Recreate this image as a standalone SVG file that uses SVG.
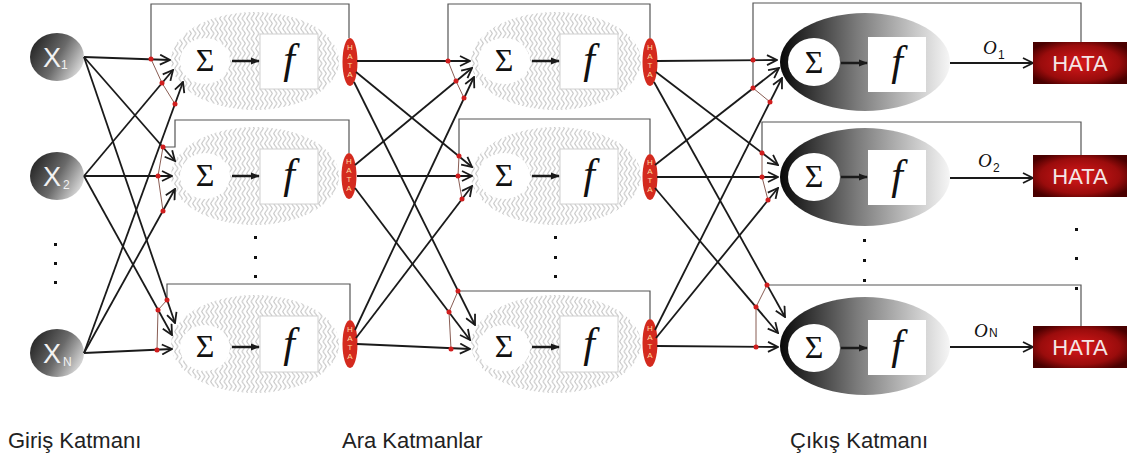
<svg xmlns="http://www.w3.org/2000/svg" width="1136" height="463" viewBox="0 0 1136 463">
<defs>
<pattern id="wave" width="4.5" height="10" patternUnits="userSpaceOnUse"><path d="M2.25,0 C4.3,2.5 4.3,2.5 2.25,5 C0.2,7.5 0.2,7.5 2.25,10" fill="none" stroke="#bcbcbc" stroke-width="1"/></pattern>
<linearGradient id="inGrad" x1="0" y1="0.3" x2="1" y2="0.8"><stop offset="0" stop-color="#262626"/><stop offset="0.5" stop-color="#6a6a6a"/><stop offset="1" stop-color="#e8e8e8"/></linearGradient>
<linearGradient id="outGrad" x1="0" y1="0" x2="1" y2="0"><stop offset="0" stop-color="#080808"/><stop offset="0.45" stop-color="#7a7a7a"/><stop offset="1" stop-color="#f6f6f6"/></linearGradient>
<radialGradient id="boxGrad" cx="0.5" cy="0.5" r="0.6"><stop offset="0" stop-color="#d8181a"/><stop offset="0.7" stop-color="#9a0c0c"/><stop offset="1" stop-color="#4a0000"/></radialGradient>
<marker id="open" viewBox="0 0 12 12" markerWidth="12" markerHeight="12" refX="11" refY="6" orient="auto" markerUnits="userSpaceOnUse"><path d="M1,1 L11,6 L1,11" fill="none" stroke="#1a1a1a" stroke-width="1.8"/></marker>
<marker id="fill" viewBox="0 0 10 10" markerWidth="9" markerHeight="9" refX="9" refY="5" orient="auto" markerUnits="userSpaceOnUse"><path d="M0,1 L10,5 L0,9 Z" fill="#1a1a1a"/></marker>
</defs>
<style>
.conn{stroke:#1a1a1a;stroke-width:1.8;fill:none;marker-end:url(#open)}
.fb{stroke:#555;stroke-width:1.2;fill:none}
.thin{stroke:#7a4a40;stroke-width:0.9;fill:none}
.rd{fill:#d01e1e}
.wav{fill:url(#wave)}
.sig{font-family:"Liberation Serif",serif;font-size:32px;fill:#111;text-anchor:middle}
.fx{font-family:"Liberation Serif",serif;font-style:italic;font-size:42px;fill:#111;text-anchor:middle}
.ha{font-family:"Liberation Sans",sans-serif;font-size:8px;fill:#ffdca0;text-anchor:middle}
.xt{font-family:"Liberation Sans",sans-serif;font-size:27px;fill:#f2f2f2;text-anchor:middle}
.xs{font-family:"Liberation Sans",sans-serif;font-size:12px;fill:#f2f2f2}
.lab{font-family:"Liberation Sans",sans-serif;font-size:22px;fill:#222}
.ol{font-family:"Liberation Serif",serif;font-style:italic;font-size:19px;fill:#111}
.os{font-family:"Liberation Sans",sans-serif;font-size:12px;fill:#111}
.hb{font-family:"Liberation Sans",sans-serif;font-size:22px;fill:#f4e6e6;text-anchor:middle}
.arr{stroke:#1a1a1a;stroke-width:2.5;marker-end:url(#fill)}
.dot{fill:#111}
</style>
<rect width="1136" height="463" fill="#fff"/>

<!-- feedback lines -->
<g id="feedback">
<path class="fb" d="M349,38 V4 H151 V59"/>
<path class="fb" d="M349,153 V120 H175 V147 H163"/>
<path class="fb" d="M350,320 V284 H167 V300"/>
<path class="fb" d="M650,38 V4 H448 V61"/>
<path class="fb" d="M650,154 V119 H459 V156"/>
<path class="fb" d="M650,319 V291 H458"/>
<path class="fb" d="M1081,42 V3 H753 V88"/>
<path class="fb" d="M1081,155 V122 H762 V153"/>
<path class="fb" d="M1081,326 V285 H767"/>
<path class="thin" d="M151,59 L162,83 L175,104"/>
<path class="thin" d="M163,147 L158,176 L163,211"/>
<path class="thin" d="M167,300 L158,310 L157,350"/>
<path class="thin" d="M448,61 L456,81 L464,98"/>
<path class="thin" d="M459,156 L458,176 L462,199"/>
<path class="thin" d="M458,291 L449,312 L451,349"/>
<path class="thin" d="M753,88 L770,102"/>
<path class="thin" d="M762,153 L762,177 L768,200"/>
<path class="thin" d="M767,285 L756,307 L756,347"/>
</g>

<!-- input nodes -->
<g id="x1"><ellipse cx="57" cy="57" rx="27" ry="24" fill="url(#inGrad)"/><text class="xt" x="52" y="67">X</text><text class="xs" x="61" y="69">1</text></g>
<g id="x2"><ellipse cx="57" cy="176" rx="27" ry="24" fill="url(#inGrad)"/><text class="xt" x="52" y="186">X</text><text class="xs" x="63" y="189">2</text></g>
<g id="xn"><ellipse cx="57" cy="353" rx="27" ry="24" fill="url(#inGrad)"/><text class="xt" x="52" y="363">X</text><text class="xs" x="63" y="366">N</text></g>
<g id="input-dots"><rect class="dot" x="54" y="243" width="3" height="3"/><rect class="dot" x="54" y="262" width="3" height="3"/><rect class="dot" x="54" y="281" width="3" height="3"/></g>

<!-- hidden layer 1 -->
<g id="h1n1" transform="translate(255,61)">
<ellipse class="wav" rx="84" ry="49"/><ellipse cx="-50" rx="25" ry="23" fill="#fff"/><rect x="5" y="-27" width="58" height="55" fill="#fff" stroke="#d0d0d0"/>
<line class="arr" x1="-23" y1="0" x2="4" y2="0"/><text class="sig" x="-50" y="10">Σ</text><text class="fx" x="34" y="12">f</text>
<ellipse cx="95" cy="1" rx="7.5" ry="24" fill="#d42a1e"/><text class="ha" x="95" y="-11">H</text><text class="ha" x="95" y="-2">A</text><text class="ha" x="95" y="7">T</text><text class="ha" x="95" y="16">A</text></g>
<g id="h1n2" transform="translate(255,176)">
<ellipse class="wav" rx="84" ry="49"/><ellipse cx="-50" rx="25" ry="23" fill="#fff"/><rect x="5" y="-27" width="58" height="55" fill="#fff" stroke="#d0d0d0"/>
<line class="arr" x1="-23" y1="0" x2="4" y2="0"/><text class="sig" x="-50" y="10">Σ</text><text class="fx" x="34" y="12">f</text>
<ellipse cx="94" cy="0" rx="7.5" ry="23" fill="#d42a1e"/><text class="ha" x="94" y="-12">H</text><text class="ha" x="94" y="-3">A</text><text class="ha" x="94" y="6">T</text><text class="ha" x="94" y="15">A</text></g>
<g id="h1n3" transform="translate(255,344)">
<ellipse class="wav" rx="84" ry="49"/><ellipse cx="-50" cy="4" rx="25" ry="23" fill="#fff"/><rect x="5" y="-28" width="58" height="56" fill="#fff" stroke="#d0d0d0"/>
<line class="arr" x1="-23" y1="3" x2="4" y2="3"/><text class="sig" x="-50" y="13">Σ</text><text class="fx" x="34" y="13">f</text>
<ellipse cx="95" cy="0" rx="7.5" ry="24" fill="#d42a1e"/><text class="ha" x="95" y="-12">H</text><text class="ha" x="95" y="-3">A</text><text class="ha" x="95" y="6">T</text><text class="ha" x="95" y="15">A</text></g>
<g id="h1-dots"><rect class="dot" x="254" y="236" width="3" height="3"/><rect class="dot" x="254" y="256" width="3" height="3"/><rect class="dot" x="254" y="275" width="3" height="3"/></g>

<!-- hidden layer 2 -->
<g id="h2n1" transform="translate(556,61)">
<ellipse class="wav" rx="85" ry="49"/><ellipse cx="-52" rx="26" ry="23" fill="#fff"/><rect x="4" y="-27" width="58" height="55" fill="#fff" stroke="#d0d0d0"/>
<line class="arr" x1="-24" y1="0" x2="3" y2="0"/><text class="sig" x="-52" y="10">Σ</text><text class="fx" x="33" y="12">f</text>
<ellipse cx="94" cy="1" rx="7.5" ry="24" fill="#d42a1e"/><text class="ha" x="94" y="-11">H</text><text class="ha" x="94" y="-2">A</text><text class="ha" x="94" y="7">T</text><text class="ha" x="94" y="16">A</text></g>
<g id="h2n2" transform="translate(556,176)">
<ellipse class="wav" rx="85" ry="49"/><ellipse cx="-52" rx="26" ry="23" fill="#fff"/><rect x="4" y="-27" width="58" height="55" fill="#fff" stroke="#d0d0d0"/>
<line class="arr" x1="-24" y1="0" x2="3" y2="0"/><text class="sig" x="-52" y="10">Σ</text><text class="fx" x="33" y="12">f</text>
<ellipse cx="94" cy="1" rx="7.5" ry="23" fill="#d42a1e"/><text class="ha" x="94" y="-11">H</text><text class="ha" x="94" y="-2">A</text><text class="ha" x="94" y="7">T</text><text class="ha" x="94" y="16">A</text></g>
<g id="h2n3" transform="translate(556,344)">
<ellipse class="wav" rx="85" ry="49"/><ellipse cx="-52" cy="4" rx="26" ry="23" fill="#fff"/><rect x="4" y="-28" width="58" height="56" fill="#fff" stroke="#d0d0d0"/>
<line class="arr" x1="-24" y1="3" x2="3" y2="3"/><text class="sig" x="-52" y="13">Σ</text><text class="fx" x="33" y="13">f</text>
<ellipse cx="94" cy="-1" rx="7.5" ry="24" fill="#d42a1e"/><text class="ha" x="94" y="-13">H</text><text class="ha" x="94" y="-4">A</text><text class="ha" x="94" y="5">T</text><text class="ha" x="94" y="14">A</text></g>
<g id="h2-dots"><rect class="dot" x="554" y="236" width="3" height="3"/><rect class="dot" x="554" y="256" width="3" height="3"/><rect class="dot" x="554" y="275" width="3" height="3"/></g>

<!-- output layer -->
<g id="on1" transform="translate(865,62)">
<ellipse rx="85" ry="49" fill="url(#outGrad)"/><ellipse cx="-51" rx="26" ry="24" fill="#fff"/><rect x="3" y="-25" width="58" height="55" fill="#fff"/>
<line class="arr" x1="-24" y1="1" x2="2" y2="1"/><text class="sig" x="-51" y="11">Σ</text><text class="fx" x="32" y="13">f</text>
<line class="conn" x1="85" y1="1" x2="168" y2="1"/><text class="ol" x="118" y="-8">O</text><text class="os" x="133" y="-3">1</text>
<rect x="168" y="-20" width="94" height="42" fill="url(#boxGrad)"/><text class="hb" x="215" y="9">HATA</text></g>
<g id="on2" transform="translate(865,177)">
<ellipse rx="85" ry="49" fill="url(#outGrad)"/><ellipse cx="-51" rx="26" ry="24" fill="#fff"/><rect x="3" y="-27" width="58" height="55" fill="#fff"/>
<line class="arr" x1="-24" y1="0" x2="2" y2="0"/><text class="sig" x="-51" y="10">Σ</text><text class="fx" x="32" y="12">f</text>
<line class="conn" x1="85" y1="1" x2="168" y2="1"/><text class="ol" x="113" y="-10">O</text><text class="os" x="128" y="-5">2</text>
<rect x="168" y="-22" width="94" height="42" fill="url(#boxGrad)"/><text class="hb" x="215" y="7">HATA</text></g>
<g id="on3" transform="translate(865,346)">
<ellipse rx="85" ry="49" fill="url(#outGrad)"/><ellipse cx="-51" cy="2" rx="26" ry="24" fill="#fff"/><rect x="3" y="-26" width="58" height="55" fill="#fff"/>
<line class="arr" x1="-24" y1="2" x2="2" y2="2"/><text class="sig" x="-51" y="12">Σ</text><text class="fx" x="32" y="13">f</text>
<line class="conn" x1="85" y1="1" x2="168" y2="1"/><text class="ol" x="109" y="-9">O</text><text class="os" x="124" y="-9">N</text>
<rect x="168" y="-20" width="94" height="42" fill="url(#boxGrad)"/><text class="hb" x="215" y="9">HATA</text></g>
<g id="out-dots"><rect class="dot" x="863" y="239" width="3" height="3"/><rect class="dot" x="863" y="259" width="3" height="3"/><rect class="dot" x="863" y="279" width="3" height="3"/><rect class="dot" x="1075" y="228" width="3" height="3"/><rect class="dot" x="1075" y="257" width="3" height="3"/><rect class="dot" x="1075" y="287" width="3" height="3"/></g>

<!-- connectors -->
<g id="connectors">
<line class="conn" x1="84" y1="57" x2="170" y2="60"/>
<line class="conn" x1="84" y1="176" x2="173" y2="70"/>
<line class="conn" x1="84" y1="353" x2="183" y2="82"/>
<line class="conn" x1="84" y1="57" x2="175" y2="161"/>
<line class="conn" x1="84" y1="176" x2="172" y2="176"/>
<line class="conn" x1="84" y1="353" x2="175" y2="189"/>
<line class="conn" x1="84" y1="57" x2="175" y2="323"/>
<line class="conn" x1="84" y1="176" x2="172" y2="335"/>
<line class="conn" x1="84" y1="353" x2="172" y2="349"/>

<line class="conn" x1="357" y1="61" x2="470" y2="61"/>
<line class="conn" x1="355" y1="165" x2="472" y2="68"/>
<line class="conn" x1="355" y1="330" x2="474" y2="77"/>
<line class="conn" x1="356" y1="72" x2="472" y2="167"/>
<line class="conn" x1="357" y1="176" x2="472" y2="176"/>
<line class="conn" x1="356" y1="338" x2="472" y2="186"/>
<line class="conn" x1="354" y1="82" x2="475" y2="325"/>
<line class="conn" x1="355" y1="188" x2="470" y2="340"/>
<line class="conn" x1="357" y1="344" x2="470" y2="349"/>

<line class="conn" x1="657" y1="61" x2="777" y2="60"/>
<line class="conn" x1="655" y1="165" x2="779" y2="68"/>
<line class="conn" x1="655" y1="330" x2="782" y2="78"/>
<line class="conn" x1="656" y1="72" x2="778" y2="165"/>
<line class="conn" x1="657" y1="177" x2="778" y2="177"/>
<line class="conn" x1="656" y1="338" x2="778" y2="188"/>
<line class="conn" x1="654" y1="82" x2="785" y2="317"/>
<line class="conn" x1="655" y1="188" x2="778" y2="333"/>
<line class="conn" x1="657" y1="346" x2="778" y2="347"/>
</g>

<!-- red junction dots -->
<g id="junctions">
<circle class="rd" cx="151" cy="59" r="2.5"/><circle class="rd" cx="162" cy="83" r="2.5"/><circle class="rd" cx="175" cy="104" r="2.5"/>
<circle class="rd" cx="163" cy="147" r="2.5"/><circle class="rd" cx="158" cy="176" r="2.5"/><circle class="rd" cx="163" cy="211" r="2.5"/>
<circle class="rd" cx="167" cy="300" r="2.5"/><circle class="rd" cx="158" cy="310" r="2.5"/><circle class="rd" cx="157" cy="350" r="2.5"/>
<circle class="rd" cx="448" cy="61" r="2.5"/><circle class="rd" cx="456" cy="81" r="2.5"/><circle class="rd" cx="464" cy="98" r="2.5"/>
<circle class="rd" cx="459" cy="156" r="2.5"/><circle class="rd" cx="458" cy="176" r="2.5"/><circle class="rd" cx="462" cy="199" r="2.5"/>
<circle class="rd" cx="458" cy="291" r="2.5"/><circle class="rd" cx="449" cy="312" r="2.5"/><circle class="rd" cx="451" cy="349" r="2.5"/>
<circle class="rd" cx="753" cy="60" r="2.5"/><circle class="rd" cx="753" cy="88" r="2.5"/><circle class="rd" cx="770" cy="102" r="2.5"/>
<circle class="rd" cx="762" cy="153" r="2.5"/><circle class="rd" cx="762" cy="177" r="2.5"/><circle class="rd" cx="768" cy="200" r="2.5"/>
<circle class="rd" cx="767" cy="285" r="2.5"/><circle class="rd" cx="756" cy="307" r="2.5"/><circle class="rd" cx="756" cy="347" r="2.5"/>
</g>

<g id="labels">
<text class="lab" x="8" y="448">Giriş Katmanı</text>
<text class="lab" x="342" y="448">Ara Katmanlar</text>
<text class="lab" x="790" y="448">Çıkış Katmanı</text>
</g>
</svg>
